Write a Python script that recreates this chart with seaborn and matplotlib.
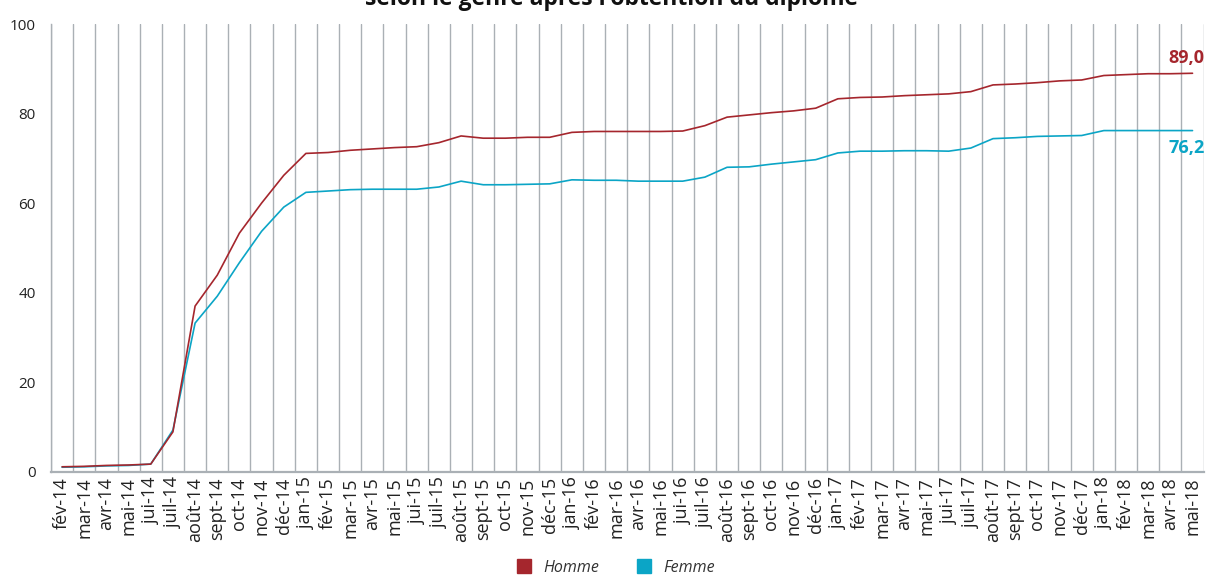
import matplotlib
matplotlib.use("Agg")
import matplotlib.pyplot as plt
from matplotlib.lines import Line2D
import numpy as np
import pandas as pd
import seaborn as sns

# monthly labels, fév-14 .. mai-18
months = ["fév-14", "mar-14", "avr-14", "mai-14", "jui-14", "juil-14", "août-14", "sept-14",
          "oct-14", "nov-14", "déc-14",
          "jan-15", "fév-15", "mar-15", "avr-15", "mai-15", "jui-15", "juil-15", "août-15",
          "sept-15", "oct-15", "nov-15", "déc-15",
          "jan-16", "fév-16", "mar-16", "avr-16", "mai-16", "jui-16", "juil-16", "août-16",
          "sept-16", "oct-16", "nov-16", "déc-16",
          "jan-17", "fév-17", "mar-17", "avr-17", "mai-17", "jui-17", "juil-17", "août-17",
          "sept-17", "oct-17", "nov-17", "déc-17",
          "jan-18", "fév-18", "mar-18", "avr-18", "mai-18"]

homme = [1.1, 1.2, 1.4, 1.5, 1.7, 8.9, 37.0, 43.9, 53.3, 60.0, 66.2,
         71.1, 71.3, 71.8, 72.1, 72.4, 72.6, 73.5, 75.0, 74.5, 74.5, 74.7, 74.7,
         75.8, 76.0, 76.0, 76.0, 76.0, 76.1, 77.3, 79.2, 79.7, 80.2, 80.6, 81.2,
         83.3, 83.6, 83.7, 84.0, 84.2, 84.4, 84.9, 86.4, 86.6, 86.9, 87.3, 87.5,
         88.5, 88.7, 88.9, 88.9, 89.0]

femme = [1.0, 1.1, 1.3, 1.4, 1.7, 9.3, 33.2, 39.2, 46.7, 53.7, 59.1,
         62.4, 62.7, 63.0, 63.1, 63.1, 63.1, 63.6, 64.9, 64.1, 64.1, 64.2, 64.3,
         65.2, 65.1, 65.1, 64.9, 64.9, 64.9, 65.8, 68.0, 68.1, 68.7, 69.2, 69.7,
         71.2, 71.6, 71.6, 71.7, 71.7, 71.6, 72.3, 74.4, 74.6, 74.9, 75.0, 75.1,
         76.2, 76.2, 76.2, 76.2, 76.2]

red = "#a5262d"
teal = "#0ba5c6"
grid_col = "#aab0b5"

df = pd.DataFrame({
    "x": list(range(len(months))) * 2,
    "val": homme + femme,
    "genre": ["Homme"] * len(homme) + ["Femme"] * len(femme),
})

sns.set_theme(style="white")
plt.rcParams["font.family"] = ["Open Sans", "DejaVu Sans"]

fig = plt.figure(figsize=(12.06, 5.79), dpi=100)
ax = fig.add_axes([0.0423, 0.1853, 0.9557, 0.7732])

sns.lineplot(data=df, x="x", y="val", hue="genre", palette={"Homme": red, "Femme": teal},
             hue_order=["Femme", "Homme"], linewidth=1.2, legend=False, ax=ax, zorder=3)

n = len(months)
ax.set_xlim(-0.5, n - 0.5)
ax.set_ylim(0, 100)
ax.set_xticks(np.arange(n))
ax.set_xticklabels(months, rotation=90, fontsize=13, color="#222222")
ax.set_xticks(np.arange(n + 1) - 0.5, minor=True)
ax.grid(True, which="minor", axis="x", color=grid_col, linewidth=1.0)
ax.grid(False, which="major")
ax.tick_params(axis="x", which="both", length=0, pad=4)
ax.set_yticks(np.arange(0, 101, 20))
ax.tick_params(axis="y", direction="in", length=7, width=1.0, color=grid_col,
               labelsize=11, labelcolor="#222222", pad=11)
ax.set_xlabel("")
ax.set_ylabel("")

for s in ["top", "right"]:
    ax.spines[s].set_visible(False)
ax.spines["left"].set_color(grid_col)
ax.spines["left"].set_linewidth(1.0)
ax.spines["bottom"].set_color(grid_col)
ax.spines["bottom"].set_linewidth(1.6)

# end values
ax.text(n - 0.45, homme[-1] + 3.5, "89,0", color=red, fontsize=13, fontweight="bold",
        ha="right", va="center", clip_on=False)
ax.text(n - 0.45, femme[-1] - 3.8, "76,2", color=teal, fontsize=13, fontweight="bold",
        ha="right", va="center", clip_on=False)

# title, cut at the top of the picture
fig.text(0.507, 0.991, "selon le genre après l'obtention du diplôme", fontsize=16.5,
         fontweight="bold", ha="center", va="baseline", color="#111111")

handles = [Line2D([], [], marker="s", linestyle="", markersize=10, color=red),
           Line2D([], [], marker="s", linestyle="", markersize=10, color=teal)]
leg = fig.legend(handles, ["Homme", "Femme"], loc="lower center", bbox_to_anchor=(0.507, -0.019),
                 ncol=2, frameon=False, handletextpad=0.2, columnspacing=1.8,
                 prop={"style": "italic", "size": 11.5})
for t in leg.get_texts():
    t.set_color("#333333")

fig.savefig("out.png", dpi=100)
